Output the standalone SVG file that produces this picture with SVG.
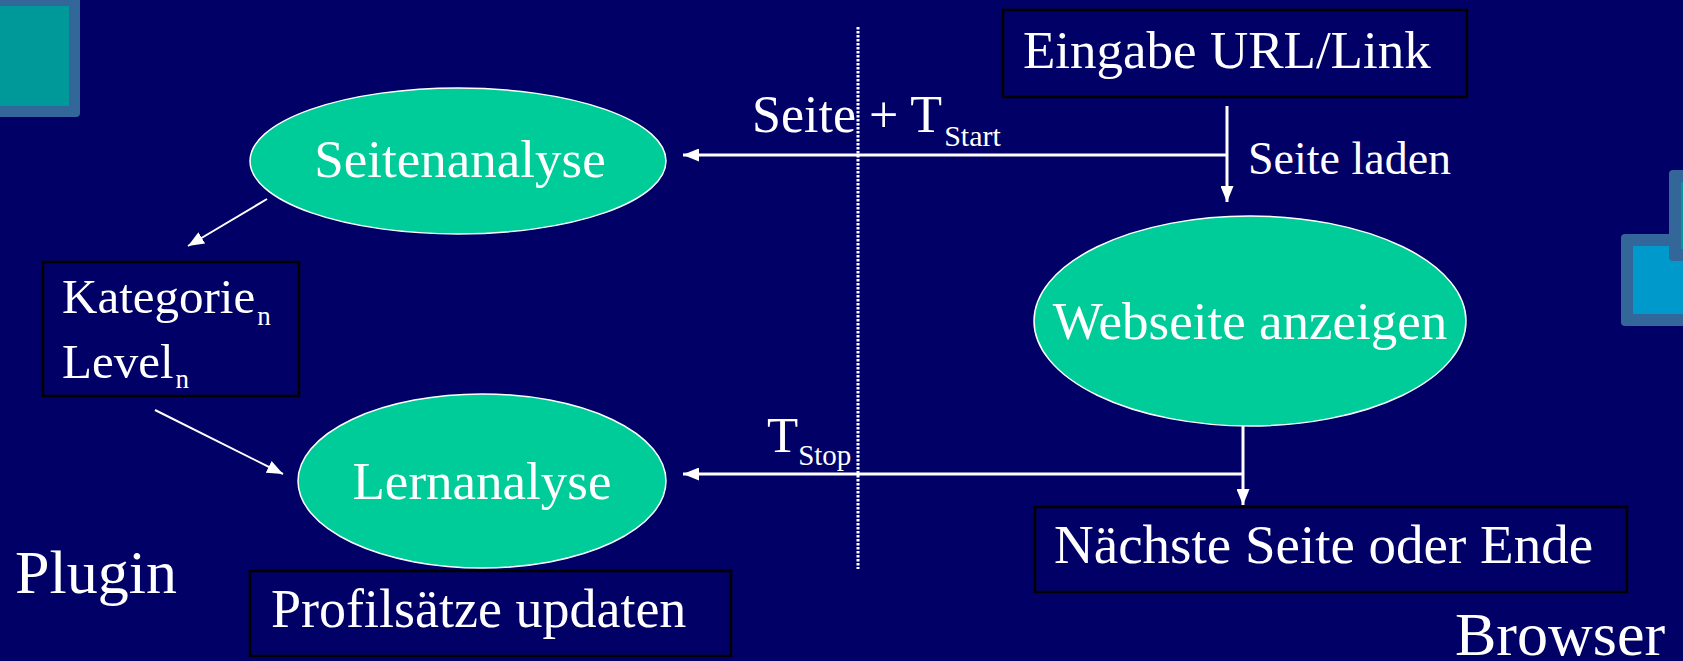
<svg xmlns="http://www.w3.org/2000/svg" width="1683" height="661" viewBox="0 0 1683 661">
  <defs>
    <marker id="head" markerUnits="userSpaceOnUse" markerWidth="16" markerHeight="13" refX="16" refY="6.5" orient="auto">
      <path d="M0,0 L16,6.5 L0,13 Z" fill="#ffffff"/>
    </marker>
    <style>
      .bg { fill: #000066; }
      .deco-frame { fill: #336699; }
      .deco-teal { fill: #009999; }
      .deco-blue { fill: #0099cc; }
      .oval { fill: #00cc99; stroke: #ffffff; stroke-width: 1.5; }
      .box { fill: #000066; stroke: #000000; stroke-width: 2.5; }
      .lbl { font-family: "Liberation Serif", "Times New Roman", serif; fill: #ffffff; }
      .big { font-size: 53px; }
      .mid { font-size: 49px; }
      .side { font-size: 62px; }
      .link { stroke: #ffffff; stroke-width: 3; fill: none; }
      .thin { stroke: #ffffff; stroke-width: 2; fill: none; }
      .divider { stroke: #ffffff; stroke-width: 3; stroke-dasharray: 2.5 1.5; fill: none; }
    </style>
  </defs>

  <!-- background -->
  <rect class="bg" x="0" y="0" width="1683" height="661"/>

  <!-- corner decorations -->
  <g id="deco-top-left">
    <rect class="deco-frame" x="-20" y="-6" width="100" height="123" rx="4"/>
    <rect class="deco-teal" x="-20" y="6" width="89" height="100"/>
  </g>
  <g id="deco-right">
    <rect class="deco-frame" x="1621" y="234" width="100" height="92" rx="4"/>
    <rect class="deco-blue" x="1633" y="246" width="80" height="68"/>
    <rect class="deco-frame" x="1669" y="170" width="60" height="91" rx="4"/>
    <rect class="deco-teal" x="1681" y="182" width="40" height="67"/>
  </g>

  <!-- dotted separator between plugin and browser side -->
  <line class="divider" x1="858" y1="27" x2="858" y2="569"/>

  <!-- connectors -->
  <g id="connectors">
    <line class="link" x1="1227" y1="106" x2="1227" y2="202" marker-end="url(#head)"/>
    <line class="link" x1="1227" y1="155" x2="683" y2="155" marker-end="url(#head)"/>
    <line class="thin" x1="267" y1="199" x2="188" y2="246" marker-end="url(#head)"/>
    <line class="thin" x1="155" y1="410" x2="283" y2="474" marker-end="url(#head)"/>
    <line class="link" x1="1243" y1="426" x2="1243" y2="505" marker-end="url(#head)"/>
    <line class="link" x1="1243" y1="474" x2="683" y2="474" marker-end="url(#head)"/>
    <text class="lbl" x="752" y="132" font-size="52">Seite + T<tspan font-size="30" dx="2" dy="14">Start</tspan></text>
    <text class="lbl" x="1248" y="174" font-size="46">Seite laden</text>
    <text class="lbl" x="767" y="452" font-size="51">T<tspan font-size="29" dy="13">Stop</tspan></text>
  </g>

  <!-- browser side -->
  <g id="eingabe">
    <rect class="box" x="1003" y="10" width="464" height="87"/>
    <text class="lbl big" x="1023" y="68">Eingabe URL/Link</text>
  </g>
  <g id="webseite">
    <ellipse class="oval" cx="1250" cy="321" rx="216" ry="105"/>
    <text class="lbl big" x="1250" y="339" text-anchor="middle">Webseite anzeigen</text>
  </g>
  <g id="naechste">
    <rect class="box" x="1035" y="507" width="592" height="85"/>
    <text class="lbl" x="1054" y="563" font-size="55">Nächste Seite oder Ende</text>
  </g>
  <g id="browser-label">
    <text class="lbl side" x="1455" y="655">Browser</text>
  </g>

  <!-- plugin side -->
  <g id="seitenanalyse">
    <ellipse class="oval" cx="458" cy="161" rx="208" ry="73"/>
    <text class="lbl big" x="460" y="177" text-anchor="middle">Seitenanalyse</text>
  </g>
  <g id="kategorie">
    <rect class="box" x="43" y="262" width="256" height="134"/>
    <text class="lbl mid" x="62" y="313">Kategorie<tspan font-size="27" dx="2" dy="12">n</tspan></text>
    <text class="lbl mid" x="62" y="378">Level<tspan font-size="27" dx="2" dy="10">n</tspan></text>
  </g>
  <g id="lernanalyse">
    <ellipse class="oval" cx="482" cy="481" rx="184" ry="87"/>
    <text class="lbl big" x="482" y="499" text-anchor="middle">Lernanalyse</text>
  </g>
  <g id="profil">
    <rect class="box" x="250" y="571" width="481" height="85"/>
    <text class="lbl" x="271" y="627" font-size="54">Profilsätze updaten</text>
  </g>
  <g id="plugin-label">
    <text class="lbl side" x="15" y="593">Plugin</text>
  </g>
</svg>
